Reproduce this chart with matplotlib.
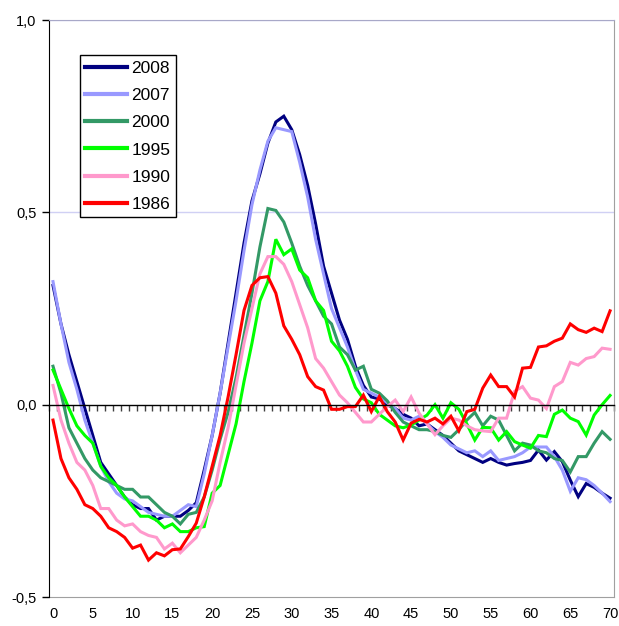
import numpy as np
import matplotlib
matplotlib.use('Agg')
from matplotlib import pyplot as plt

# age 0..70
ages = list(range(71))

y2008 = [0.31, 0.21, 0.13, 0.06, -0.01, -0.08, -0.15, -0.18, -0.21, -0.24,
         -0.26, -0.27, -0.27, -0.30, -0.29, -0.29, -0.29, -0.275, -0.255, -0.17,
         -0.08, 0.03, 0.16, 0.29, 0.42, 0.53, 0.60, 0.68, 0.735, 0.75,
         0.715, 0.65, 0.57, 0.47, 0.36, 0.29, 0.22, 0.17, 0.10, 0.05,
         0.02, 0.015, 0.0, -0.01, -0.025, -0.035, -0.055, -0.05, -0.065, -0.08,
         -0.10, -0.12, -0.13, -0.14, -0.15, -0.14, -0.15, -0.157, -0.153, -0.15,
         -0.145, -0.118, -0.144, -0.122, -0.148, -0.196, -0.239, -0.205, -0.215, -0.23,
         -0.243]
y2007 = [0.32, 0.21, 0.11, 0.04, -0.04, -0.10, -0.16, -0.20, -0.23, -0.245,
         -0.25, -0.265, -0.28, -0.285, -0.29, -0.29, -0.275, -0.26, -0.265, -0.18,
         -0.08, 0.03, 0.15, 0.27, 0.40, 0.52, 0.61, 0.685, 0.72, 0.715,
         0.71, 0.63, 0.54, 0.43, 0.34, 0.25, 0.20, 0.15, 0.09, 0.04,
         0.03, 0.02, 0.005, -0.01, -0.035, -0.04, -0.03, -0.05, -0.07, -0.085,
         -0.105, -0.115, -0.125, -0.12, -0.135, -0.12, -0.145, -0.14, -0.135, -0.125,
         -0.11, -0.11, -0.11, -0.135, -0.17, -0.225, -0.19, -0.195, -0.21, -0.23,
         -0.252]
y2000 = [0.10, 0.03, -0.06, -0.10, -0.14, -0.17, -0.19, -0.20, -0.21, -0.22,
         -0.22, -0.24, -0.24, -0.26, -0.28, -0.29, -0.31, -0.285, -0.28, -0.24,
         -0.17, -0.09, -0.02, 0.07, 0.18, 0.29, 0.41, 0.51, 0.505, 0.475,
         0.42, 0.36, 0.31, 0.27, 0.23, 0.21, 0.15, 0.13, 0.09, 0.10,
         0.04, 0.03, 0.01, -0.02, -0.045, -0.055, -0.065, -0.065, -0.07, -0.08,
         -0.085, -0.065, -0.04, -0.02, -0.055, -0.03, -0.04, -0.08, -0.12, -0.10,
         -0.105, -0.12, -0.125, -0.14, -0.145, -0.175, -0.135, -0.135, -0.10, -0.07,
         -0.09]
y1995 = [0.09, 0.04, -0.01, -0.055, -0.08, -0.10, -0.16, -0.19, -0.21, -0.24,
         -0.265, -0.29, -0.29, -0.30, -0.32, -0.31, -0.33, -0.33, -0.32, -0.317,
         -0.23, -0.21, -0.13, -0.05, 0.06, 0.16, 0.27, 0.32, 0.43, 0.39,
         0.405, 0.35, 0.33, 0.27, 0.245, 0.165, 0.14, 0.10, 0.045, 0.015,
         0.005, -0.025, -0.04, -0.055, -0.06, -0.053, -0.04, -0.027, 0.0, -0.035,
         0.005, -0.012, -0.05, -0.092, -0.059, -0.06, -0.092, -0.07, -0.096, -0.105,
         -0.113, -0.08, -0.083, -0.025, -0.014, -0.035, -0.044, -0.079, -0.027, 0.0,
         0.024]
y1990 = [0.05, -0.04, -0.10, -0.15, -0.17, -0.21, -0.27, -0.27, -0.30, -0.315,
         -0.31, -0.33, -0.34, -0.345, -0.375, -0.36, -0.385, -0.365, -0.345, -0.30,
         -0.25, -0.15, -0.06, 0.05, 0.16, 0.25, 0.34, 0.385, 0.385, 0.365,
         0.32, 0.26, 0.20, 0.12, 0.095, 0.06, 0.025, 0.005, -0.02, -0.045,
         -0.045, -0.025, -0.005, 0.012, -0.018, 0.02, -0.022, -0.05, -0.078, -0.055,
         -0.035, -0.04, -0.055, -0.065, -0.068, -0.07, -0.035, -0.035, 0.035, 0.047,
         0.017, 0.012, -0.01, 0.047, 0.06, 0.11, 0.103, 0.12, 0.125, 0.147,
         0.144]
y1986 = [-0.04, -0.14, -0.19, -0.22, -0.26, -0.27, -0.29, -0.32, -0.33, -0.345,
         -0.373, -0.365, -0.404, -0.385, -0.393, -0.377, -0.375, -0.343, -0.308, -0.24,
         -0.16, -0.08, 0.02, 0.13, 0.245, 0.31, 0.33, 0.333, 0.29, 0.205,
         0.17, 0.13, 0.073, 0.047, 0.038, -0.012, -0.012, -0.005, -0.005, 0.025,
         -0.018, 0.021, -0.018, -0.045, -0.092, -0.048, -0.038, -0.045, -0.035, -0.05,
         -0.03, -0.068, -0.018, -0.012, 0.043, 0.077, 0.047, 0.047, 0.02, 0.095,
         0.097, 0.15, 0.153, 0.165, 0.173, 0.21, 0.195, 0.188, 0.199, 0.19,
         0.244]

series_names = ['2008', '2007', '2000', '1995', '1990', '1986']
series_values = [y2008, y2007, y2000, y1995, y1990, y1986]
colors = ['#000080', '#9999ff', '#339966', '#00ff00', '#ff99cc', '#ff0000']

y_ticks = [-0.5, 0.0, 0.5, 1.0]
y_labels = ['-0,5', '0,0', '0,5', '1,0']
x_ticks = list(range(0, 71, 5))

plt.rcParams['font.family'] = ['Liberation Sans', 'DejaVu Sans']

fig = plt.figure(figsize=(6.19, 6.26), dpi=100)
ax = fig.add_axes([0.0792, 0.0463, 0.9128, 0.9217])

for name, vals, col in zip(series_names, series_values, colors):
	ax.plot(ages, vals, color=col, lw=2.2, label=name, solid_joinstyle='miter')

ax.set_xlim(-0.5, 70.5)
ax.set_ylim(-0.5, 1.0)

# gridlines
for y in [0.5, 1.0]:
	ax.axhline(y, color='#d0d0f4', lw=1, zorder=0)

# y axis
ax.set_yticks(y_ticks)
ax.set_yticklabels(y_labels, fontsize=10.5)
ax.tick_params(axis='y', direction='out', length=5, width=1, pad=4, color='black')

# zero axis with category ticks
ax.spines['bottom'].set_position(('data', 0))
ax.spines['bottom'].set_color('black')
ax.spines['bottom'].set_linewidth(1)
ax.set_xticks(np.arange(-0.5, 71, 1))
ax.set_xticklabels([])
ax.tick_params(axis='x', direction='out', length=4, width=1, color='#404040')

ax.spines['left'].set_color('black')
ax.spines['top'].set_color('#a8a8c8')
ax.spines['right'].set_color('#a0a0a0')

# labels along the bottom of the plot area
sec = ax.secondary_xaxis(0.0)
sec.set_xticks(x_ticks)
sec.set_xticklabels([str(v) for v in x_ticks], fontsize=10.5)
sec.tick_params(length=0, pad=7)
sec.spines['bottom'].set_color('#a0a0a0')

leg = ax.legend(loc='upper left', bbox_to_anchor=(0.055, 0.939), fontsize=12.5,
                frameon=True, fancybox=False, edgecolor='black', framealpha=1,
                handlelength=2.4, handletextpad=0.25, labelspacing=0.7,
                borderpad=0.3, borderaxespad=0)
leg.get_frame().set_linewidth(1)
for line in leg.get_lines():
	line.set_linewidth(3)

plt.savefig('out.png', dpi=100)
